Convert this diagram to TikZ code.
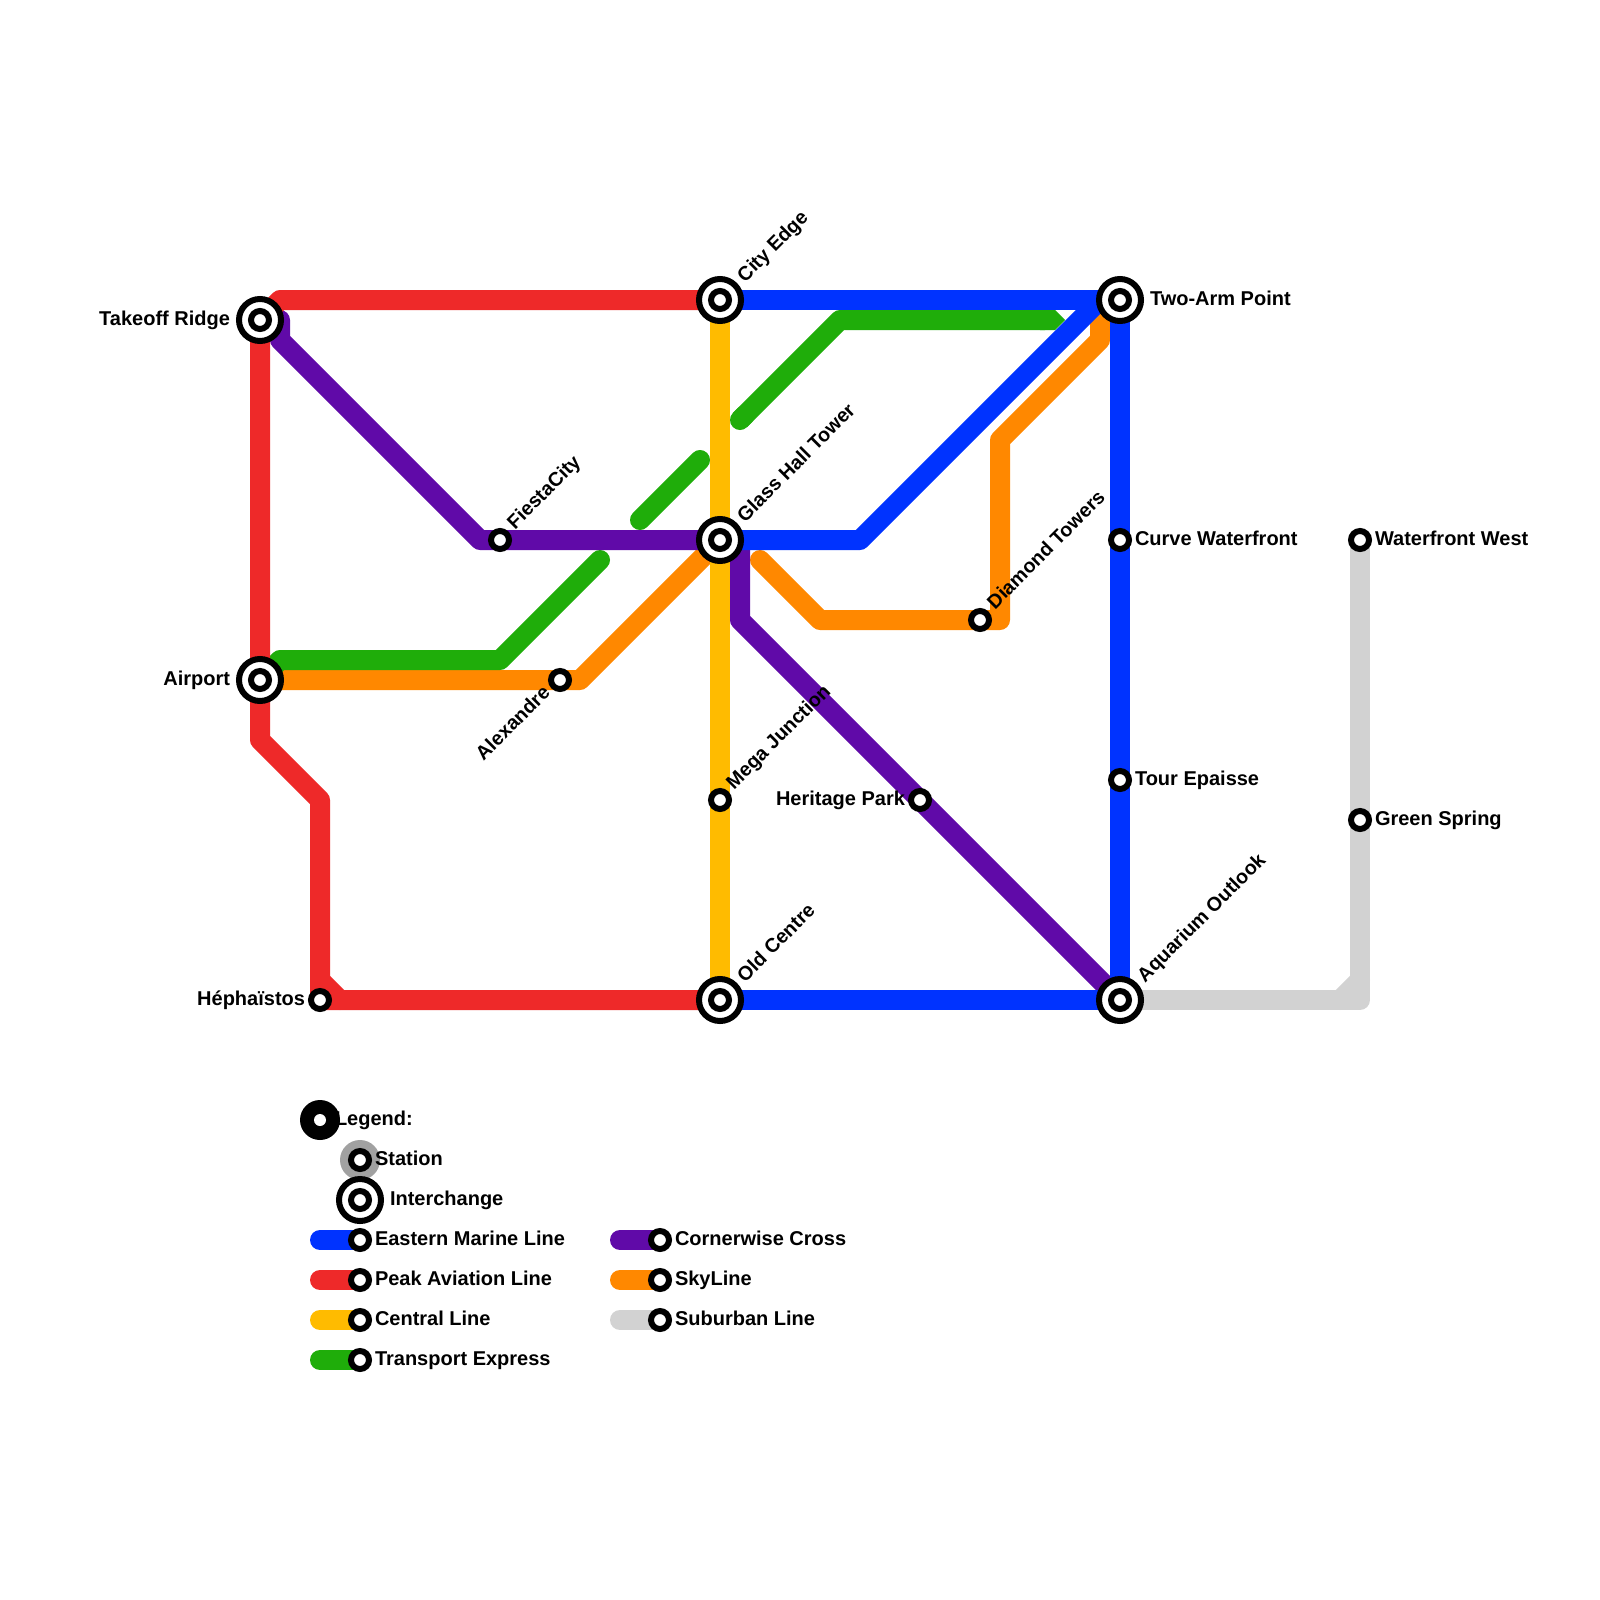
\documentclass[tikz,border=0pt]{standalone}
\usepackage{fontspec}
\setmainfont{Liberation Sans}
\pgfdeclarelayer{lines}
\pgfsetlayers{lines,main}
\definecolor{cblue}{HTML}{0033FF}
\definecolor{cred}{HTML}{EE2929}
\definecolor{cyellow}{HTML}{FFBB00}
\definecolor{cgreen}{HTML}{1FAD0A}
\definecolor{cpurple}{HTML}{600AA8}
\definecolor{corange}{HTML}{FF8800}
\definecolor{cgrey}{HTML}{D2D2D2}
\tikzset{
 x=0.5pt,y=-0.5pt,
 track/.style={line width=10pt,line cap=round,line join=round},
 halt/.style={circle,draw=black,fill=white,line width=3pt,minimum size=9pt,inner sep=0pt,outer sep=0pt},
 ichangering/.style={circle,draw=black,fill=white,line width=3pt,minimum size=21pt,inner sep=0pt,outer sep=0pt},
 lbl/.style={font=\fontsize{10pt}{12pt}\selectfont\bfseries,inner sep=0pt,outer sep=0pt,text=black},
 lw/.style={lbl,anchor=base west},
 le/.style={lbl,anchor=base east},
 up/.style={lbl,anchor=base west,rotate=45,font=\fontsize{9.85pt}{12pt}\selectfont\bfseries},
 upe/.style={lbl,anchor=base east,rotate=45,font=\fontsize{9.85pt}{12pt}\selectfont\bfseries},
}
\begin{document}
\begin{tikzpicture}
\useasboundingbox (0,0) rectangle (1600,1600);
% stations
\node[ichangering] (takeoffR) at (260,320) {}; \node[halt] (takeoff) at (260,320) {};
\node[ichangering] (airportR) at (260,680) {}; \node[halt] (airport) at (260,680) {};
\node[ichangering] (cityR) at (720,300) {}; \node[halt] (city) at (720,300) {};
\node[ichangering] (glassR) at (720,540) {}; \node[halt] (glass) at (720,540) {};
\node[ichangering] (oldR) at (720,1000) {}; \node[halt] (old) at (720,1000) {};
\node[ichangering] (twoR) at (1120,300) {}; \node[halt] (two) at (1120,300) {};
\node[ichangering] (aquaR) at (1120,1000) {}; \node[halt] (aqua) at (1120,1000) {};
\node[halt] (heph) at (320,1000) {};
\node[halt] (fiesta) at (500,540) {};
\node[halt] (alex) at (560,680) {};
\node[halt] (mega) at (720,800) {};
\node[halt] (heritage) at (920,800) {};
\node[halt] (diamond) at (980,620) {};
\node[halt] (curve) at (1120,540) {};
\node[halt] (tour) at (1120,780) {};
\node[halt] (west) at (1360,540) {};
\node[halt] (spring) at (1360,820) {};
% labels
\node[le] (l1) at (230,325) {Takeoff Ridge};
\node[le] (l2) at (230,685) {Airport};
\node[le] (l3) at (305,1005) {Héphaïstos};
\node[le] (l4) at (905,805) {Heritage Park};
\node[lw] (l5) at (1150,305) {Two-Arm Point};
\node[lw] (l6) at (1135,545) {Curve Waterfront};
\node[lw] (l7) at (1135,785) {Tour Epaisse};
\node[lw] (l8) at (1375,545) {Waterfront West};
\node[lw] (l9) at (1375,825) {Green Spring};
\node[up] (l10) at (745,283) {City Edge};
\node[up] (l11) at (745,523) {Glass Hall Tower};
\node[up] (l12) at (745,983) {Old Centre};
\node[up] (l13) at (1145,983) {Aquarium Outlook};
\node[up] (l14) at (515,530) {FiestaCity};
\node[up] (l15) at (734,790) {Mega Junction};
\node[up] (l16) at (995,610) {Diamond Towers};
\node[upe] (l17) at (551,694) {Alexandre};
% legend
\node[circle,fill=black,minimum size=20pt,inner sep=0pt] (lgA) at (320,1120) {};
\node[circle,fill=white,minimum size=6pt,inner sep=0pt] (lgAh) at (320,1120) {};
\node[lw] (lgAt) at (335,1125) {Legend:};
\node[circle,fill=black!37,minimum size=20pt,inner sep=0pt] (lgB) at (360,1160) {};
\node[halt] (lgBs) at (360,1160) {};
\node[lw] (lgBt) at (375,1165) {Station};
\node[ichangering] (lgCR) at (360,1200) {}; \node[halt] (lgC) at (360,1200) {};
\node[lw] (lgCt) at (390,1205) {Interchange};
\node[halt] (k1) at (360,1240) {}; \coordinate (k1s) at (320,1240); \node[lw] (k1t) at (375,1245) {Eastern Marine Line};
\node[halt] (k2) at (360,1280) {}; \coordinate (k2s) at (320,1280); \node[lw] (k2t) at (375,1285) {Peak Aviation Line};
\node[halt] (k3) at (360,1320) {}; \coordinate (k3s) at (320,1320); \node[lw] (k3t) at (375,1325) {Central Line};
\node[halt] (k4) at (360,1360) {}; \coordinate (k4s) at (320,1360); \node[lw] (k4t) at (375,1365) {Transport Express};
\node[halt] (k5) at (660,1240) {}; \coordinate (k5s) at (620,1240); \node[lw] (k5t) at (675,1245) {Cornerwise Cross};
\node[halt] (k6) at (660,1280) {}; \coordinate (k6s) at (620,1280); \node[lw] (k6t) at (675,1285) {SkyLine};
\node[halt] (k7) at (660,1320) {}; \coordinate (k7s) at (620,1320); \node[lw] (k7t) at (675,1325) {Suburban Line};
% lines
\begin{pgfonlayer}{lines}
\fill[white] (0,0) rectangle (1600,1600);
\draw[track,corange] (airport.center) -- (alex.center) -- (580,680) -- (glass.center);
\draw[track,corange] (760,560) -- (820,620) -- (diamond.center) -- (1000,620) -- (1000,440) -- (1100,340) -- (1100,320) -- (two.center);
\draw[track,cgrey] (aqua.center) -- (1360,1000) -- (spring.center) -- (west.center);
\draw[track,cgrey] (1340,1000) -- (1360,980);
\draw[track,cgreen] (airport.center) -- (280,660) -- (500,660) -- (600,560);
\draw[track,cgreen] (640,520) -- (700,460);
\draw[track,cgreen,line cap=butt] (740,420) -- (840,320) -- (1045,320);
\draw[track,cgreen,line cap=round] (740,420) -- (745,415);
\fill[cgreen] (1040,310) -- (1055,310) -- (1065,320) -- (1055,330) -- (1040,330) -- cycle;
\draw[track,cyellow] (city.center) -- (glass.center) -- (mega.center) -- (old.center);
\draw[track,cpurple] (takeoff.center) -- (280,320) -- (280,340) -- (480,540) -- (fiesta.center) -- (glass.center);
\draw[track,cpurple] (glass.center) -- (740,540) -- (740,620) -- (heritage.center) -- (aqua.center);
\draw[track,cred] (city.center) -- (280,300) -- (takeoff.center) -- (airport.center) -- (260,740) -- (320,800) -- (heph.center) -- (old.center);
\draw[track,cred] (320,980) -- (340,1000);
\draw[track,cblue] (city.center) -- (two.center) -- (curve.center) -- (tour.center) -- (aqua.center) -- (old.center);
\draw[track,cblue] (glass.center) -- (860,540) -- (1100,300);
\draw[track,cblue] (k1s) -- (k1.center);
\draw[track,cred] (k2s) -- (k2.center);
\draw[track,cyellow] (k3s) -- (k3.center);
\draw[track,cgreen] (k4s) -- (k4.center);
\draw[track,cpurple] (k5s) -- (k5.center);
\draw[track,corange] (k6s) -- (k6.center);
\draw[track,cgrey] (k7s) -- (k7.center);
\end{pgfonlayer}
\end{tikzpicture}
\end{document}
